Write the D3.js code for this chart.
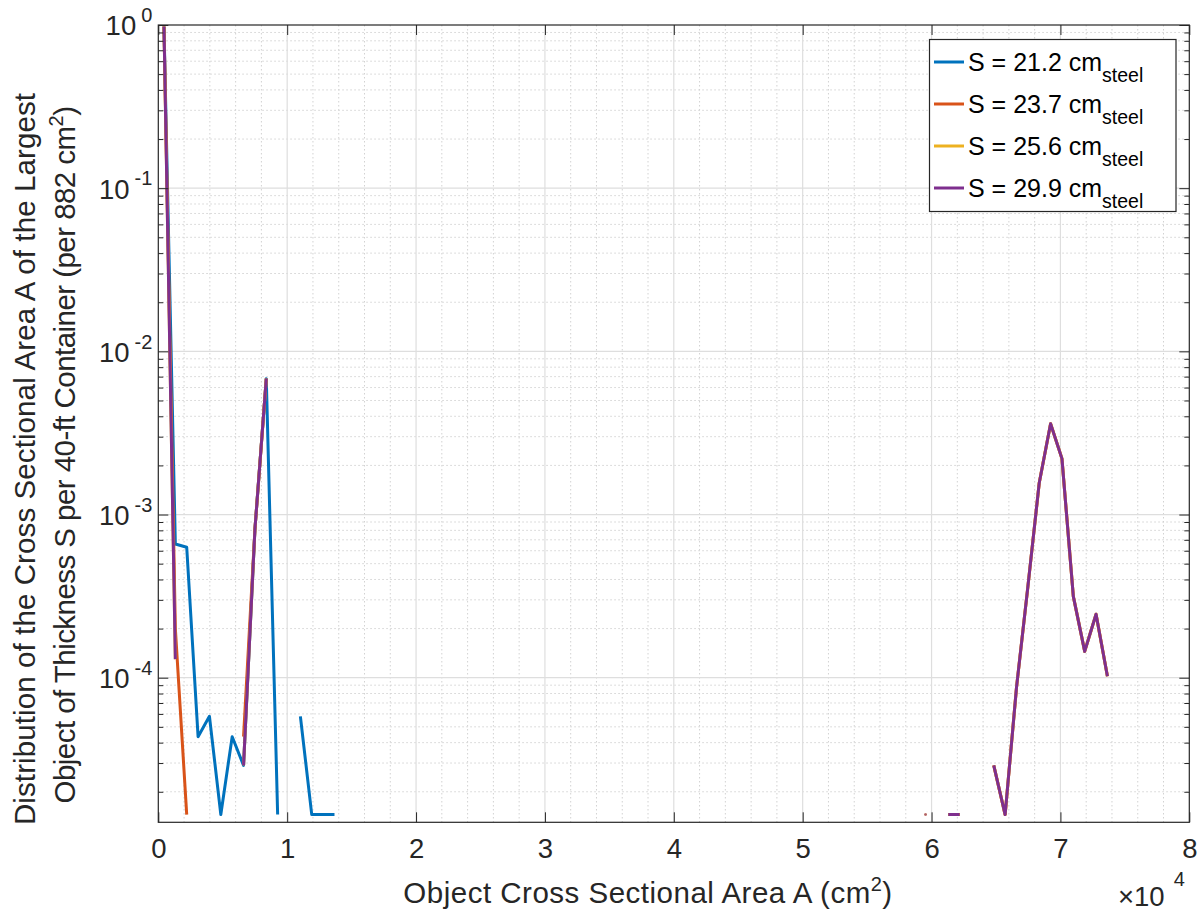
<!DOCTYPE html>
<html>
<head>
<meta charset="utf-8">
<script src="https://cdn.jsdelivr.net/npm/d3@7"></script>
<style>
  html, body { margin: 0; padding: 0; background: #fff; }
  svg { display: block; font-family: "Liberation Sans", Arial, Helvetica, sans-serif; }
</style>
</head>
<body>
<svg id="chart" width="1198" height="913"></svg>
<script>
// Bin centres of the 882 cm^2 area bins (cm^2)
const areaBins = [
  441, 1323, 2205, 3087, 3969, 4851, 5733, 6615, 7497, 8379, 9261, 10143,
  11025, 11907, 12789, 13671, 14553,
  58653, 59535, 60417, 61299, 62181, 63063, 63945, 64827, 65709, 66591,
  67473, 68355, 69237, 70119, 71001, 71883, 72765, 73647
];

// Distribution values per series (null = empty bin, not drawn on the log axis)
const s212 = [
  0.98, 6.6e-4, 6.3e-4, 4.35e-5, 5.8e-5, 1.45e-5, 4.35e-5, 2.9e-5, 8.1e-4, 6.8e-3, 1.45e-5, null,
  5.8e-5, 1.45e-5, 1.45e-5, 1.45e-5, null,
  null, null, null, null, null, null, null, null, null, null,
  null, null, null, null, null, null, null, null
];
const s237 = [
  0.98, 2.0e-4, 1.45e-5, null, null, null, null, 4.35e-5, 8.1e-4, 6.8e-3, null, null,
  null, null, null, null, null,
  null, 1.45e-5, null, 1.45e-5, 1.45e-5, null, null, 2.9e-5, 1.45e-5, 8.7e-5,
  3.6e-4, 1.56e-3, 3.6e-3, 2.2e-3, 3.15e-4, 1.45e-4, 2.45e-4, 1.02e-4
];
const s256 = [
  0.98, 1.3e-4, null, null, null, null, null, 2.9e-5, 8.1e-4, 6.8e-3, null, null,
  null, null, null, null, null,
  null, 1.45e-5, null, 1.45e-5, 1.45e-5, null, null, 2.9e-5, 1.45e-5, 8.7e-5,
  3.6e-4, 1.56e-3, 3.6e-3, 2.2e-3, 3.15e-4, 1.45e-4, 2.45e-4, 1.02e-4
];
const s299 = [
  0.98, 1.3e-4, null, null, null, null, null, 2.9e-5, 8.1e-4, 6.8e-3, null, null,
  null, null, null, null, null,
  null, 1.45e-5, null, 1.45e-5, 1.45e-5, null, null, 2.9e-5, 1.45e-5, 8.7e-5,
  3.6e-4, 1.56e-3, 3.6e-3, 2.2e-3, 3.15e-4, 1.45e-4, 2.45e-4, 1.02e-4
];

const seriesNames = ["21.2", "23.7", "25.6", "29.9"];
const seriesColors = ["#0072BD", "#D95319", "#EDB120", "#7E2F8E"];
const seriesValues = [s212, s237, s256, s299];

// Axis ticks
const xTicks = [0, 10000, 20000, 30000, 40000, 50000, 60000, 70000, 80000];
const xTickLabels = ["0", "1", "2", "3", "4", "5", "6", "7", "8"];
const yTicks = [1, 1e-1, 1e-2, 1e-3, 1e-4];
const yTickExponents = ["0", "-1", "-2", "-3", "-4"];

const svg = d3.select("#chart");
const plot = { left: 158.3, right: 1189.3, top: 25, bottom: 822.3 };

const x = d3.scaleLinear().domain([0, 80000]).range([plot.left, plot.right]);
const y = d3.scaleLog().domain([1.3e-5, 1]).range([plot.bottom, plot.top]);

// Minor tick/grid positions
const xMinor = d3.range(0, 80001, 2000).filter(v => v % 10000 !== 0);
const yMinor = [];
[1e-5, 1e-4, 1e-3, 1e-2, 1e-1].forEach(d => {
  for (let m = 2; m <= 9; m++) {
    const v = m * d;
    if (v >= y.domain()[0] && v <= 1) yMinor.push(v);
  }
});

const ink = "#262626";
const fam = "Liberation Sans, Arial, sans-serif";

// Grid
const grid = svg.append("g");
grid.selectAll(".xmin").data(xMinor).join("line")
  .attr("x1", d => x(d)).attr("x2", d => x(d))
  .attr("y1", plot.top).attr("y2", plot.bottom)
  .attr("stroke", "#d2d2d2").attr("stroke-width", 1).attr("stroke-dasharray", "1.5,2.5");
grid.selectAll(".ymin").data(yMinor).join("line")
  .attr("x1", plot.left).attr("x2", plot.right)
  .attr("y1", d => y(d)).attr("y2", d => y(d))
  .attr("stroke", "#d2d2d2").attr("stroke-width", 1).attr("stroke-dasharray", "1.5,2.5");
grid.selectAll(".xmaj").data(xTicks.slice(1, -1)).join("line")
  .attr("x1", d => x(d)).attr("x2", d => x(d))
  .attr("y1", plot.top).attr("y2", plot.bottom)
  .attr("stroke", "#dedede").attr("stroke-width", 1.2);
grid.selectAll(".ymaj").data(yTicks.slice(1)).join("line")
  .attr("x1", plot.left).attr("x2", plot.right)
  .attr("y1", d => y(d)).attr("y2", d => y(d))
  .attr("stroke", "#dedede").attr("stroke-width", 1.2);

// Series lines
const lines = svg.append("g");
seriesValues.forEach((vals, i) => {
  const pts = areaBins.map((a, k) => ({ a, v: vals[k] }));
  const line = d3.line()
    .defined(d => d.v != null && d.v > 0)
    .x(d => x(d.a)).y(d => y(d.v));
  lines.append("path")
    .attr("d", line(pts))
    .attr("fill", "none")
    .attr("stroke", seriesColors[i])
    .attr("stroke-width", 3)
    .attr("stroke-linejoin", "round");
  // lone points (empty neighbours) show as a faint dot
  const lone = pts.filter((d, k) => d.v != null &&
    (k === 0 || pts[k - 1].v == null) && (k === pts.length - 1 || pts[k + 1].v == null));
  lines.selectAll(null).data(lone).join("circle")
    .attr("cx", d => x(d.a)).attr("cy", d => y(d.v)).attr("r", 1.3)
    .attr("fill", seriesColors[i]).attr("opacity", 0.6);
});

// Axes box with inward ticks
const fontTick = 27.5;
const axB = svg.append("g").attr("transform", `translate(0,${plot.bottom})`)
  .call(d3.axisBottom(x).tickValues(xTicks).tickSizeInner(-10).tickSizeOuter(0)
    .tickPadding(16).tickFormat((d, i) => xTickLabels[i]));
const axT = svg.append("g").attr("transform", `translate(0,${plot.top})`)
  .call(d3.axisTop(x).tickValues(xTicks).tickSizeInner(-10).tickSizeOuter(0).tickFormat(""));
const axL = svg.append("g").attr("transform", `translate(${plot.left},0)`)
  .call(d3.axisLeft(y).tickValues(yTicks).tickSizeInner(-10).tickSizeOuter(0).tickFormat(""));
const axLm = svg.append("g").attr("transform", `translate(${plot.left},0)`)
  .call(d3.axisLeft(y).tickValues(yMinor).tickSizeInner(-5).tickSizeOuter(0).tickFormat(""));
const axR = svg.append("g").attr("transform", `translate(${plot.right},0)`)
  .call(d3.axisRight(y).tickValues(yTicks).tickSizeInner(-10).tickSizeOuter(0).tickFormat(""));
const axRm = svg.append("g").attr("transform", `translate(${plot.right},0)`)
  .call(d3.axisRight(y).tickValues(yMinor).tickSizeInner(-5).tickSizeOuter(0).tickFormat(""));
[axB, axT, axL, axLm, axR, axRm].forEach(g => {
  g.select(".domain").remove();
  g.selectAll(".tick line").attr("stroke", ink).attr("stroke-width", 1);
});
axB.selectAll(".tick text").attr("fill", ink).attr("font-size", fontTick)
  .attr("font-family", fam);

// y tick labels as 10^n
axL.selectAll(".tick").each(function (d) {
  const t = d3.select(this).append("text")
    .attr("x", -6).attr("y", 0)
    .attr("text-anchor", "end")
    .attr("fill", ink)
    .attr("font-size", fontTick)
    .attr("font-family", fam);
  t.append("tspan").attr("dy", "0.36em").text("10");
  t.append("tspan").attr("dx", 5).attr("dy", "-0.66em").attr("font-size", 20)
    .text(yTickExponents[yTicks.indexOf(d)]);
});

// frame
svg.append("rect")
  .attr("x", plot.left).attr("y", plot.top)
  .attr("width", plot.right - plot.left).attr("height", plot.bottom - plot.top)
  .attr("fill", "none").attr("stroke", ink).attr("stroke-width", 1.2);

// x axis multiplier
const mult = svg.append("text").attr("x", 1118).attr("y", 906)
  .attr("fill", ink).attr("font-size", fontTick);
mult.append("tspan").text("\u00d710");
mult.append("tspan").attr("dx", 9).attr("dy", -20).attr("font-size", 20).text("4");

// axis labels
const fontLabel = 29.5;
const xl = svg.append("text").attr("x", 648).attr("y", 903)
  .attr("text-anchor", "middle").attr("fill", ink).attr("font-size", fontLabel)
  .attr("letter-spacing", 0.5);
xl.append("tspan").text("Object Cross Sectional Area A (cm");
xl.append("tspan").attr("dy", -12).attr("font-size", 20).text("2");
xl.append("tspan").attr("dy", 12).text(")");

svg.append("text")
  .attr("transform", "translate(35,459) rotate(-90)")
  .attr("text-anchor", "middle").attr("fill", ink).attr("font-size", fontLabel)
  .attr("letter-spacing", 0.1)
  .text("Distribution of the Cross Sectional Area A of the Largest");
const yl2 = svg.append("text")
  .attr("transform", "translate(75,455) rotate(-90)")
  .attr("text-anchor", "middle").attr("fill", ink).attr("font-size", fontLabel)
  .attr("letter-spacing", -0.55);
yl2.append("tspan").text("Object of Thickness S per 40-ft Container (per 882 cm");
yl2.append("tspan").attr("dy", -12).attr("font-size", 20).text("2");
yl2.append("tspan").attr("dy", 12).text(")");

// Legend
const leg = svg.append("g");
leg.append("rect").attr("x", 929.5).attr("y", 39.5).attr("width", 246.5).attr("height", 172)
  .attr("fill", "#fff").attr("stroke", ink).attr("stroke-width", 1.2);
seriesNames.forEach((name, i) => {
  const cy = 62 + i * 42;
  leg.append("line").attr("x1", 934).attr("x2", 964).attr("y1", cy).attr("y2", cy)
    .attr("stroke", seriesColors[i]).attr("stroke-width", 3);
  const t = leg.append("text").attr("x", 968).attr("y", cy + 9)
    .attr("fill", "#000").attr("font-size", 25);
  t.append("tspan").text(`S = ${name} cm`);
  t.append("tspan").attr("dy", 10.5).attr("font-size", 19.5).text("steel");
});
</script>
</body>
</html>
